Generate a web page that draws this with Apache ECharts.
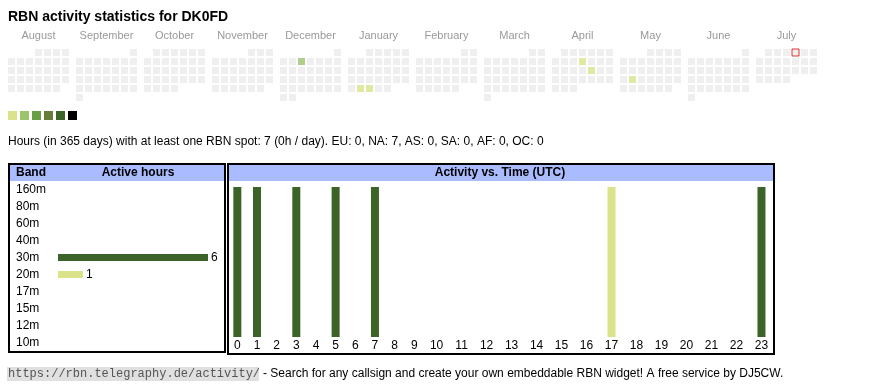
<!DOCTYPE html>
<html><head><meta charset="utf-8">
<script src="https://cdn.jsdelivr.net/npm/echarts@6/dist/echarts.min.js"></script>
<style>html,body{margin:0;padding:0;background:#fff}#c{width:870px;height:390px}</style>
</head><body><div id="c"></div>
<script>
// ---------- data ----------
const titleText = 'RBN activity statistics for DK0FD';
const monthNames = ['August','September','October','November','December','January','February','March','April','May','June','July'];
const rangeStart = '2024-08-01';
const rangeEnd = '2025-07-24';
const markedDay = '2025-07-04';
const activeDays = ['2024-12-04','2025-01-28','2025-01-29','2025-04-10','2025-04-18','2025-05-20'];
const activeDayHours = [2,1,1,1,1,1];
const levelColors = ['#dae28a','#9dc36b','#69a046','#667c3b','#3c6428','#000000'];
const bands = ['160m','80m','60m','40m','30m','20m','17m','15m','12m','10m'];
const bandHours = [0,0,0,0,6,1,0,0,0,0];
const bandColors = {'30m':'#3c6428','20m':'#dae28a'};
const hourLabels = ['0','1','2','3','4','5','6','7','8','9','10','11','12','13','14','15','16','17','18','19','20','21','22','23'];
const hourActive = [1,1,0,1,0,1,0,1,0,0,0,0,0,0,0,0,0,1,0,0,0,0,0,1];
const hourBand   = ['30m','30m','','30m','','30m','','30m','','','','','','','','','','20m','','','','','','30m'];
const infoText = 'Hours (in 365 days) with at least one RBN spot: 7 (0h / day). EU: 0, NA: 7, AS: 0, SA: 0, AF: 0, OC: 0';
const footerLink = 'https://rbn.telegraphy.de/activity/';
const footerText = '- Search for any callsign and create your own embeddable RBN widget! A free service by DJ5CW.';

// ---------- build ----------
const SANS = '"Liberation Sans", Arial, sans-serif';
const MONO = '"Liberation Mono", "Courier New", monospace';
const dayVal = {};
activeDays.forEach((d,i)=>{ dayVal[d] = activeDayHours[i]; });
const pad = n => (n<10?'0':'') + n;
const start = new Date(rangeStart+'T00:00:00Z');
const end = new Date(rangeEnd+'T00:00:00Z');
const monthData = monthNames.map(()=>[]);
for (let t = start.getTime(); t <= end.getTime(); t += 86400000) {
  const d = new Date(t);
  const y = d.getUTCFullYear(), m = d.getUTCMonth(), day = d.getUTCDate();
  const mi = (y - start.getUTCFullYear())*12 + m - start.getUTCMonth();
  const firstDow = (new Date(Date.UTC(y,m,1)).getUTCDay()+6)%7;
  const dow = (d.getUTCDay()+6)%7;
  const week = Math.floor((day-1+firstDow)/7);
  const key = y+'-'+pad(m+1)+'-'+pad(day);
  const item = {value:[dow, week, dayVal[key]||0]};
  if (key === markedDay) item.itemStyle = {borderColor:'#e00000', borderWidth:1};
  monthData[mi].push(item);
}

const grids = [], xAxes = [], yAxes = [], series = [];
monthNames.forEach((name,i)=>{
  grids.push({left: 7 + 68*i, top: 48, width: 63, height: 54});
  xAxes.push({gridIndex:i, type:'category', data:[0,1,2,3,4,5,6], position:'top',
    name:name, nameLocation:'middle', nameGap:7,
    nameTextStyle:{color:'#999', fontSize:11, fontFamily:SANS},
    axisLine:{show:false}, axisTick:{show:false}, axisLabel:{show:false}, splitLine:{show:false}});
  yAxes.push({gridIndex:i, type:'category', data:[0,1,2,3,4,5], inverse:true, show:false});
  series.push({type:'scatter', xAxisIndex:i, yAxisIndex:i, symbol:'rect', symbolSize:7,
    data: monthData[i], silent:true, animation:false});
});

// left table: band bars
const maxBand = Math.max(...bandHours);
grids.push({left:58, top:181, width:150, height:170});
xAxes.push({gridIndex:12, type:'value', min:0, max:maxBand, show:false});
yAxes.push({gridIndex:12, type:'category', data:bands, inverse:true,
  axisLine:{show:false}, axisTick:{show:false}, splitLine:{show:false},
  axisLabel:{margin:42, align:'left', fontSize:12, color:'#000', fontFamily:SANS}});
series.push({type:'bar', xAxisIndex:12, yAxisIndex:12, barWidth:7, animation:false, silent:true,
  data: bandHours.map((v,i)=>({value:v, itemStyle:{color: bandColors[bands[i]] || '#3c6428'}})),
  label:{show:true, position:'right', distance:3, fontSize:12, color:'#000', fontFamily:SANS,
    formatter: p => p.value ? String(p.value) : ''}});

// right table: hour columns (auto widths like an html table)
const DIGIT_W = 5.33, CELL_PAD = 14.33;
const colW = hourLabels.map(s => s.length*DIGIT_W + CELL_PAD);
const colCenter = []; let acc = 0;
colW.forEach(w => { colCenter.push(acc + w/2); acc += w; });
const totalW = acc;
grids.push({left:227.5, top:187, width: totalW, height:150});
xAxes.push({gridIndex:13, type:'value', min:0, max:totalW,
  axisLine:{show:false}, axisTick:{show:false}, splitLine:{show:false},
  axisLabel:{customValues: colCenter, margin:3, fontSize:12, color:'#000', fontFamily:SANS,
    formatter: v => { let bi=0, bd=1e9; colCenter.forEach((c,i)=>{ const dd=Math.abs(c-v); if(dd<bd){bd=dd;bi=i;} }); return hourLabels[bi]; }}});
yAxes.push({gridIndex:13, type:'value', min:0, max:1, show:false});
series.push({type:'bar', xAxisIndex:13, yAxisIndex:13, barWidth:8, animation:false, silent:true,
  data: hourActive.map((v,i)=>({value:[colCenter[i], v], itemStyle:{color: bandColors[hourBand[i]] || '#3c6428'}})).filter((d,i)=>hourActive[i]>0)});

const pieces = levelColors.map((c,i)=> i < levelColors.length-1 ? {value:i+1, color:c} : {gte:i+1, color:c});

const chart = echarts.init(document.getElementById('c'), null, {renderer:'canvas'});
chart.setOption({
  animation:false,
  grid: grids, xAxis: xAxes, yAxis: yAxes, series: series,
  visualMap: {type:'piecewise', seriesIndex:[0,1,2,3,4,5,6,7,8,9,10,11], dimension:2,
    pieces: pieces, outOfRange:{color:'#ebebeb'}, orient:'horizontal', left:8, top:111,
    itemWidth:9, itemHeight:9, itemGap:3, itemSymbol:'rect', showLabel:false, selectedMode:false, padding:0},
  graphic: [
    {type:'text', style:{x:8, y:17, text:titleText, font:'bold 14px '+SANS, fill:'#000', verticalAlign:'middle'}},
    {type:'text', style:{x:8, y:142, text:infoText, font:'12px '+SANS, fill:'#000', verticalAlign:'middle'}},
    {type:'rect', shape:{x:10, y:165, width:214, height:16}, style:{fill:'#aabbff'}},
    {type:'rect', shape:{x:9, y:164, width:216, height:188}, style:{fill:'none', stroke:'#000', lineWidth:2}},
    {type:'text', style:{x:16, y:173, text:'Band', font:'bold 12px '+SANS, fill:'#000', verticalAlign:'middle'}},
    {type:'text', style:{x:138, y:173, text:'Active hours', font:'bold 12px '+SANS, fill:'#000', verticalAlign:'middle', align:'center'}},
    {type:'rect', shape:{x:229, y:165, width:544, height:16}, style:{fill:'#aabbff'}},
    {type:'rect', shape:{x:228, y:164, width:546, height:190}, style:{fill:'none', stroke:'#000', lineWidth:2}},
    {type:'text', style:{x:500, y:173, text:'Activity vs. Time (UTC)', font:'bold 12px '+SANS, fill:'#000', verticalAlign:'middle', align:'center'}},
    {type:'rect', shape:{x:7, y:367, width:252, height:14}, style:{fill:'#e0e0e0'}},
    {type:'text', style:{x:8, y:374, text:footerLink, font:'12px '+MONO, fill:'#555', verticalAlign:'middle'}},
    {type:'text', style:{x:263, y:374, text:footerText, font:'12px '+SANS, fill:'#000', verticalAlign:'middle'}}
  ]
});
</script></body></html>
